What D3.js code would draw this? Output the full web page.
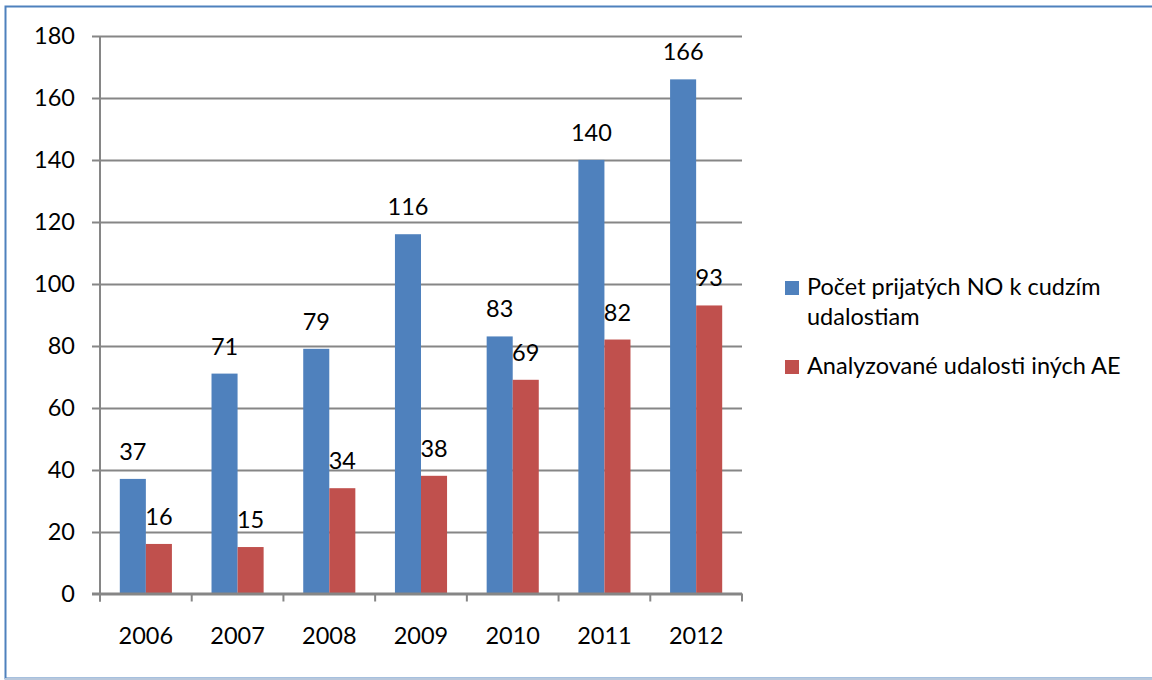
<!DOCTYPE html>
<html>
<head>
<meta charset="utf-8">
<script src="https://cdn.jsdelivr.net/npm/d3@7"></script>
<style>
  html, body { margin: 0; padding: 0; background: #fff; }
  svg { display: block; }
  text { font-family: Lato, "Open Sans", sans-serif; fill: #000; }
</style>
</head>
<body>
<svg id="chart" width="1152" height="680"></svg>
<script>
const categories = ["2006", "2007", "2008", "2009", "2010", "2011", "2012"];
const seriesNames = ["Počet prijatých NO k cudzím udalostiam", "Analyzované udalosti iných AE"];
const seriesBlue = [37, 71, 79, 116, 83, 140, 166];
const seriesRed = [16, 15, 34, 38, 69, 82, 93];
const yTicks = [0, 20, 40, 60, 80, 100, 120, 140, 160, 180];
const colors = ["#4F81BD", "#C0504D"];

(function () {
const svg = d3.select("#chart");
const fs = 23.5;

// outer chart border
svg.append("rect").attr("x", 5.5).attr("y", 6.5).attr("width", 1200).attr("height", 672)
  .attr("fill", "none").attr("stroke", "#4F81BD").attr("stroke-width", 2);
svg.append("line").attr("x1", 5).attr("x2", 1152).attr("y1", 679).attr("y2", 679)
  .attr("stroke", "#B8C8DC").attr("stroke-width", 2);

const pLeft = 100, pRight = 742, pTop = 36, pBottom = 593.5;
const x = d3.scaleBand().domain(categories).range([pLeft, pRight]).paddingInner(0).paddingOuter(0);
const y = d3.scaleLinear().domain([0, 180]).range([pBottom, pTop]);
const inner = d3.scaleBand().domain([0, 1]).range([0, x.bandwidth()]).paddingOuter(0.76).paddingInner(0);

// gridlines
svg.append("g").selectAll("line").data(yTicks).join("line")
  .attr("x1", pLeft - 8).attr("x2", pRight)
  .attr("y1", d => Math.round(y(d)) + 0.5).attr("y2", d => Math.round(y(d)) + 0.5)
  .attr("stroke", "#868686").attr("stroke-width", 2);

// y labels
svg.append("g").selectAll("text").data(yTicks).join("text")
  .attr("x", 75).attr("y", d => y(d) + 8)
  .attr("text-anchor", "end").attr("font-size", fs).text(d => d);

// bars
const data = [seriesBlue, seriesRed];
data.forEach((vals, si) => {
  svg.append("g").selectAll("rect").data(vals).join("rect")
    .attr("x", (d, i) => x(categories[i]) + inner(si))
    .attr("y", d => y(d))
    .attr("width", inner.bandwidth())
    .attr("height", d => pBottom - y(d))
    .attr("fill", colors[si]);
  svg.append("g").selectAll("text").data(vals).join("text")
    .attr("x", (d, i) => x(categories[i]) + inner(si) + inner.bandwidth() / 2)
    .attr("y", d => y(d) - 19)
    .attr("text-anchor", "middle").attr("font-size", fs).text(d => d);
});

// axes lines
svg.append("line").attr("x1", pLeft).attr("x2", pLeft).attr("y1", pTop).attr("y2", pBottom + 8)
  .attr("stroke", "#868686").attr("stroke-width", 2);
svg.append("line").attr("x1", pLeft - 8).attr("x2", pRight).attr("y1", pBottom).attr("y2", pBottom)
  .attr("stroke", "#868686").attr("stroke-width", 2);
const catEdges = categories.map(c => x(c)).concat([pRight]);
svg.append("g").selectAll("line").data(catEdges).join("line")
  .attr("x1", d => d).attr("x2", d => d).attr("y1", pBottom).attr("y2", pBottom + 8)
  .attr("stroke", "#868686").attr("stroke-width", 2);

// x labels
svg.append("g").selectAll("text").data(categories).join("text")
  .attr("x", d => x(d) + x.bandwidth() / 2).attr("y", 644)
  .attr("text-anchor", "middle").attr("font-size", fs).text(d => d);

// legend
const legend = svg.append("g");
legend.append("rect").attr("x", 785).attr("y", 281).attr("width", 14).attr("height", 14).attr("fill", colors[0]);
const t1 = legend.append("text").attr("x", 807).attr("y", 295).attr("font-size", fs);
t1.append("tspan").attr("x", 807).text("Počet prijatých NO k cudzím");
t1.append("tspan").attr("x", 807).attr("dy", 30).text("udalostiam");
legend.append("rect").attr("x", 785).attr("y", 360).attr("width", 14).attr("height", 14).attr("fill", colors[1]);
legend.append("text").attr("x", 807).attr("y", 374).attr("font-size", fs).text(seriesNames[1]);
})();
</script>
</body>
</html>
